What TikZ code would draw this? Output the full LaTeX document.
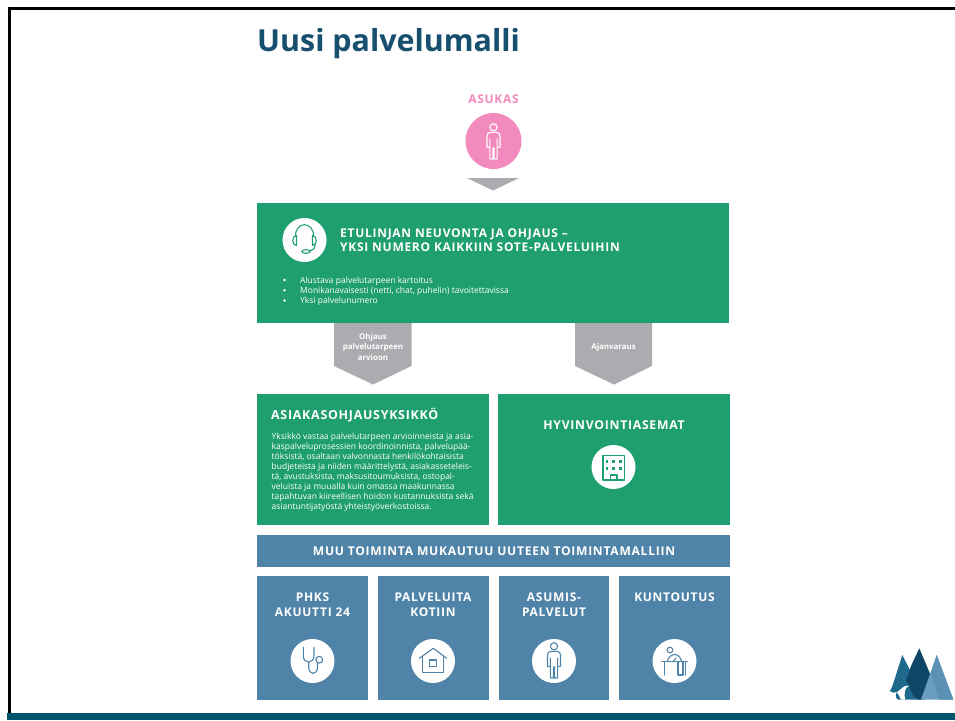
\documentclass[tikz,border=0pt]{standalone}
\usepackage{fontspec}
\setmainfont{Open Sans}
\newfontfamily\headf[LetterSpace=6]{Open Sans}
\newfontfamily\titlef{Open Sans}
\definecolor{grn}{HTML}{1F9F70}
\definecolor{blu}{HTML}{4F84A8}
\definecolor{pnk}{HTML}{F38ABD}
\definecolor{gry}{HTML}{ABACAF}
\definecolor{navy}{HTML}{00536F}
\definecolor{ttl}{HTML}{17506F}
\definecolor{logoa}{HTML}{1E6A8D}
\definecolor{logob}{HTML}{0E4668}
\definecolor{logoc}{HTML}{6A9DBF}
\definecolor{logod}{HTML}{5A91B4}
\tikzset{
 head/.style={text=white,font=\headf\bfseries\fontsize{12}{14.5}\selectfont,align=center,inner sep=0pt},
 body/.style={text=white,font=\fontsize{8.5}{10.1}\selectfont,align=left,inner sep=0pt},
 lab/.style={text=white,font=\bfseries\fontsize{7.9}{10.2}\selectfont,align=center,inner sep=0pt},
 disc/.style={circle,fill=white,minimum size=44pt,inner sep=0pt},
 ico/.style={line width=1.1pt,line join=round,line cap=round},
 personicon/.pic={
   \draw[pic actions] (0,-14.7) circle (3.6);
   \draw[pic actions] (-3,-9.7) -- (3,-9.7) .. controls (5.5,-9.7) and (6.5,-8) .. (6.5,-5.5) -- (6.5,5.3) -- (3.6,5.3) -- (3.6,-3)
     (3.6,5.3) -- (3.6,17) -- (0.5,17) -- (0.5,6) -- (-0.5,6) -- (-0.5,17) -- (-3.6,17) -- (-3.6,-3)
     (-3.6,5.3) -- (-6.5,5.3) -- (-6.5,-5.5) .. controls (-6.5,-8) and (-5.5,-9.7) .. (-3,-9.7);
 }
}
\begin{document}
\begin{tikzpicture}[x=1pt,y=-1pt]
\useasboundingbox (0,0) rectangle (955,720);
\fill[white] (0,0) rectangle (955,720);
% slide frame
\fill[black] (8,7) rectangle (955,9.5);
\fill[black] (8,7) rectangle (10.5,720);
\fill[navy] (7,713) rectangle (955,720);
% title
\node[anchor=west,inner sep=0pt,text=ttl,font=\titlef\bfseries\fontsize{30.4}{32}\selectfont] (title) at (257,43.5) {Uusi palvelumalli};
% asukas
\node[text=pnk,font=\headf\bfseries\fontsize{12}{12}\selectfont,inner sep=0pt] (asukas) at (493.5,99.5) {ASUKAS};
\node[circle,fill=pnk,minimum size=56pt,inner sep=0pt] (asukasc) at (493.5,141) {};
\pic[draw=white,ico] at (493.5,142) {personicon};
\fill[gry] (467,178) -- (519,178) -- (493,190.5) -- cycle;
% arrows
\fill[gry] (334,320) -- (411.5,320) -- (411.5,366) -- (373,384.5) -- (334,366) -- cycle;
\fill[gry] (575,320) -- (652,320) -- (652,366) -- (614,384.5) -- (575,366) -- cycle;
\node[lab] (a1) at (373,347) {Ohjaus\\palvelutarpeen\\arvioon};
\node[lab] (a2) at (613.5,347) {Ajanvaraus};
% front line box
\fill[grn] (257,203) rectangle (729,323);
\node[disc] (hc) at (304.5,240) {};
\draw[grn,ico] (295.5,236) .. controls (295.5,221) and (313.5,221) .. (313.5,236);
\draw[grn,ico] (296.5,235.5) -- (296.5,245.5) .. controls (291.5,245.5) and (291.5,235.5) .. (296.5,235.5);
\draw[grn,ico] (312.5,235.5) -- (312.5,245.5) .. controls (317.5,245.5) and (317.5,235.5) .. (312.5,235.5);
\draw[grn,ico] (315,245) .. controls (315,249) and (312,250.5) .. (310,250.7);
\draw[grn,ico] (306,251.5) ellipse (4.2 and 1.8);
\node[head,anchor=west,align=left,font=\headf\bfseries\fontsize{12}{14.6}\selectfont] (h1) at (340,240.2) {ETULINJAN NEUVONTA JA OHJAUS –\\YKSI NUMERO KAIKKIIN SOTE-PALVELUIHIN};
\foreach \yy in {280,290.2,300.4}{\fill[white] (284.5,\yy) circle (1.4);}
\node[body,anchor=west] (bl) at (300,291.5) {Alustava palvelutarpeen kartoitus\\Monikanavaisesti (netti, chat, puhelin) tavoitettavissa\\Yksi palvelunumero};
% two boxes
\fill[grn] (257,394) rectangle (489,525);
\fill[grn] (498,394) rectangle (729.5,525);
\node[head,anchor=west,font=\headf\bfseries\fontsize{12.4}{14}\selectfont] (h2) at (271,415) {ASIAKASOHJAUSYKSIKKÖ};
\node[body,anchor=north west] (b2) at (271.5,432.5) {Yksikkö vastaa palvelutarpeen arvioinneista ja asia-\\kaspalveluprosessien koordinoinnista, palvelupää-\\töksistä, osaltaan valvonnasta henkilökohtaisista\\budjeteista ja niiden määrittelystä, asiakasseteleis-\\tä, avustuksista, maksusitoumuksista, ostopal-\\veluista ja muualla kuin omassa maakunnassa\\tapahtuvan kiireellisen hoidon kustannuksista sekä\\asiantuntijatyöstä yhteistyöverkostoissa.};
\node[head,font=\headf\bfseries\fontsize{12.2}{14}\selectfont] (h3) at (614,425.5) {HYVINVOINTIASEMAT};
\node[disc] (bc) at (613.5,467) {};
\draw[grn,line width=1.4pt,line join=round] (603,480) -- (603,455.5) -- (624.5,455.5) -- (624.5,480) -- cycle (610.5,480) -- (610.5,475) -- (617,475) -- (617,480);
\foreach \xx in {607,613.7,620.5}{\foreach \yy in {461.7,468.3}{\fill[grn] (\xx-1.4,\yy-1.4) rectangle (\xx+1.4,\yy+1.4);}}
% blue band
\fill[blu] (257,535) rectangle (729.5,567);
\node[head,font=\headf\bfseries\fontsize{12.1}{14}\selectfont] (m) at (494,551) {MUU TOIMINTA MUKAUTUU UUTEEN TOIMINTAMALLIIN};
% four boxes
\fill[blu] (257,576) rectangle (368,700);
\fill[blu] (378,576) rectangle (488.5,700);
\fill[blu] (498.5,576) rectangle (609,700);
\fill[blu] (619,576) rectangle (729.5,700);
\tikzset{h4/.style={head,anchor=north,font=\headf\bfseries\fontsize{12}{14.6}\selectfont}}
\node[h4] (p1) at (312.5,593) {PHKS\\AKUUTTI 24};
\node[h4] (p2) at (433,593) {PALVELUITA\\KOTIIN};
\node[h4] (p3) at (554,593) {ASUMIS-\\PALVELUT};
\node[h4] (p4) at (674.5,593) {KUNTOUTUS};
\node[disc] (c1) at (312.5,661) {};
\node[disc] (c2) at (433,661) {};
\node[disc] (c3) at (554,661) {};
\node[disc] (c4) at (674.5,661) {};
% stethoscope
\draw[blu,ico] (303.3,647.3) -- (303.3,656) .. controls (303.3,664) and (314,664) .. (314,656) -- (314,647.3);
\draw[blu,ico] (308.7,662) -- (308.7,667) .. controls (308.7,675.5) and (317.5,675.5) .. (317.5,667) -- (317.5,663);
\draw[blu,ico] (319.3,659.7) circle (3.4);
% house
\draw[blu,ico] (419.3,658.3) -- (433.3,648.3) -- (446.7,658.3);
\draw[blu,ico] (422.5,657) -- (422.5,672.5) -- (443.5,672.5) -- (443.5,657);
\draw[blu,ico] (429.5,660) rectangle (436.7,666.7);
% person
\pic[draw=blu,ico] at (554,661) {personicon};
% rehab
\draw[blu,ico] (662,661.7) -- (687.3,661.7) (664.5,661.7) -- (664.5,675) (685.3,661.7) -- (685.3,675);
\draw[blu,ico] (670,650) circle (2.8);
\draw[blu,ico] (667,661.7) .. controls (669,657) and (671,654.5) .. (675,654.5) .. controls (678,654.5) and (680,657) .. (682,661.7);
\draw[blu,ico] (678,661.7) -- (678,675) -- (683,675) -- (683,661.7);
\draw[blu,ico] (673,661.7) -- (676,658);
% logo
\fill[logoa] (902.3,655) -- (925,699.5) -- (898,699.5) .. controls (895,698) and (895.5,695) .. (897,692) .. controls (894,693) and (892,693) .. (889.8,691) .. controls (892,688) and (893,684) .. (895,678) -- cycle;
\fill[white] (897,692) .. controls (901,690) and (904,684) .. (909,686) .. controls (905,687) and (904,692) .. (905,699.5) -- (901,699.5) .. controls (899,697) and (899,694) .. (897,692) -- cycle;
\fill[logob] (919.3,648.3) -- (931,676) -- (921,699.5) -- (918,699.5) .. controls (913,697) and (911,692) .. (909.5,686) -- (906,680.5) -- (911,666) -- cycle;
\fill[logoc] (936.7,655) -- (953.3,699.5) -- (921,699.5) -- cycle;
\fill[logod] (936.7,655) -- (953.3,699.5) -- (939,699.5) -- (931,673) -- cycle;
\end{tikzpicture}
\end{document}
